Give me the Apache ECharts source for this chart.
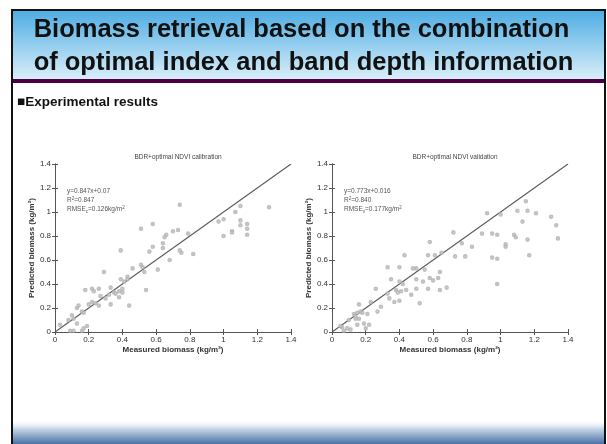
<!DOCTYPE html>
<html>
<head>
<meta charset="utf-8">
<script src="https://cdn.jsdelivr.net/npm/echarts@6/dist/echarts.min.js"></script>
<style>
  html, body { margin: 0; padding: 0; background: #fff; }
  #main { width: 607px; height: 444px; }
</style>
</head>
<body>
<div id="main"></div>
<script>
/** calibration samples: measured / predicted biomass (kg/m2) */
var calMeasured = [0.51, 0.58, 0.66, 0.65, 0.64, 0.64, 0.39, 0.56, 0.58, 0.29, 0.51, 0.52, 0.53, 0.61, 0.68, 0.46, 0.43, 0.43, 0.39, 0.41,
    0.40, 0.38, 0.40, 0.38, 0.33, 0.35, 0.44, 0.54, 0.33, 0.18, 0.22, 0.23, 0.26, 0.27, 0.22, 0.24, 0.26, 0.20, 0.14, 0.13,
    0.16, 0.17, 0.10, 0.11, 0.08, 0.13, 0.19, 0.16, 0.09, 0.11, 0.03, 0.17, 0.30, 0.32, 0.36,
    0.74, 0.70, 0.73, 0.79, 0.74, 0.75, 0.82, 0.97, 1.00, 1.00, 1.05, 1.05, 1.07, 1.10, 1.10, 1.10, 1.14, 1.14, 1.14, 1.27]
var calPredicted = [0.86, 0.90, 0.81, 0.79, 0.74, 0.70, 0.68, 0.67, 0.71, 0.50, 0.56, 0.54, 0.50, 0.52, 0.60, 0.53, 0.46, 0.44, 0.44, 0.42,
    0.36, 0.34, 0.33, 0.29, 0.37, 0.33, 0.22, 0.35, 0.23, 0.35, 0.36, 0.34, 0.36, 0.30, 0.25, 0.24, 0.22, 0.23, 0.22, 0.20,
    0.17, 0.16, 0.14, 0.11, 0.10, 0.07, 0.05, 0.01, 0.01, 0.01, 0.06, 0.03, 0.28, 0.31, 0.32,
    1.06, 0.84, 0.85, 0.82, 0.68, 0.66, 0.65, 0.92, 0.94, 0.80, 0.84, 0.83, 1.00, 1.05, 0.93, 0.89, 0.90, 0.86, 0.81, 1.04]

/** validation samples */
var valMeasured = [0.58, 0.43, 0.57, 0.33, 0.40, 0.48, 0.50, 0.35, 0.40, 0.42, 0.50, 0.54, 0.55, 0.58, 0.60, 0.57, 0.50, 0.44, 0.38, 0.39,
    0.41, 0.33, 0.34, 0.37, 0.40, 0.47, 0.52, 0.64, 0.63, 0.64, 0.68, 0.26, 0.23, 0.27, 0.29, 0.16, 0.17, 0.15, 0.18, 0.13,
    0.14, 0.21, 0.14, 0.16, 0.10, 0.19, 0.15, 0.22, 0.20, 0.09, 0.11, 0.06, 0.05, 0.07, 0.61, 0.65,
    0.72, 0.77, 0.73, 0.79, 0.83, 0.89, 0.92, 0.95, 0.98, 0.95, 0.98, 0.98, 1.00, 1.03, 1.03, 1.08, 1.09, 1.10, 1.13, 1.15,
    1.16, 1.16, 1.17, 1.21, 1.30, 1.33, 1.34]
var valPredicted = [0.75, 0.64, 0.64, 0.54, 0.54, 0.53, 0.53, 0.44, 0.42, 0.40, 0.44, 0.42, 0.52, 0.45, 0.43, 0.36, 0.36, 0.35, 0.35, 0.33,
    0.34, 0.32, 0.28, 0.25, 0.26, 0.31, 0.24, 0.50, 0.45, 0.35, 0.37, 0.36, 0.25, 0.17, 0.21, 0.23, 0.17, 0.16, 0.16, 0.15,
    0.13, 0.15, 0.11, 0.11, 0.10, 0.07, 0.06, 0.06, 0.03, 0.03, 0.02, 0.04, 0.05, 0.01, 0.64, 0.66,
    0.83, 0.74, 0.63, 0.63, 0.71, 0.82, 0.99, 0.82, 0.81, 0.62, 0.61, 0.40, 0.98, 0.73, 0.71, 0.81, 0.79, 1.01, 0.92, 1.09,
    1.01, 0.77, 0.64, 0.99, 0.96, 0.89, 0.78]

/** 1:1 line */
var oneToOne = [0, 1.4]

var plotTitles = ['BDR+optimal NDVI calibration', 'BDR+optimal NDVI validation']
var calStats = ['y=0.847x+0.07', '0.847', '0.126kg/m']
var valStats = ['y=0.773x+0.016', '0.840', '0.177kg/m']

function pairs(xs, ys) {
    return xs.map(function (x, i) { return [x, ys[i]] })
}

var grids = [
    { left: 55, top: 164, width: 236, height: 168 },
    { left: 332, top: 164, width: 236, height: 168 }
]

var axisColor = '#555'
var labelStyle = { fontFamily: 'Liberation Sans', fontSize: 8, color: '#333', margin: 4 }

function makeX(idx, pos) {
    return {
        type: 'value', gridIndex: idx, position: pos, min: 0, max: 1.4, interval: 0.2,
        name: pos == 'bottom' ? 'Measured biomass (kg/m²)' : '',
        nameLocation: 'middle', nameGap: 14,
        nameTextStyle: { fontFamily: 'Liberation Sans', fontSize: 8, fontWeight: 'bold', color: '#333' },
        axisLine: { show: true, lineStyle: { color: axisColor, width: 1 } },
        axisTick: { show: true, inside: true, length: 3, lineStyle: { color: axisColor } },
        axisLabel: pos == 'bottom' ? Object.assign({ show: true, formatter: function (v) { return +v.toFixed(1) + '' } }, labelStyle) : { show: false },
        splitLine: { show: false }
    }
}

function makeY(idx, pos) {
    return {
        type: 'value', gridIndex: idx, position: pos, min: 0, max: 1.4, interval: 0.2,
        name: pos == 'left' ? 'Predicted biomass (kg/m²)' : '',
        nameLocation: 'middle', nameGap: 15,
        nameTextStyle: { fontFamily: 'Liberation Sans', fontSize: 8, fontWeight: 'bold', color: '#333' },
        axisLine: { show: true, lineStyle: { color: axisColor, width: 1 } },
        axisTick: { show: true, inside: true, length: 3, lineStyle: { color: axisColor } },
        axisLabel: pos == 'left' ? Object.assign({ show: true, formatter: function (v) { return +v.toFixed(1) + '' } }, labelStyle) : { show: false },
        splitLine: { show: false }
    }
}

function statsText(x, stats, sub) {
    return {
        type: 'text', left: x, top: 188,
        style: {
            text: '{a|' + stats[0] + '}\n{a|R}{s|2}{a|=' + stats[1] + '}\n{a|RMSE}{b|' + sub + '}{a|=' + stats[2] + '}{s|2}',
            rich: {
                a: { fontFamily: 'Liberation Sans', fontSize: 6.5, fill: '#555', lineHeight: 9 },
                s: { fontFamily: 'Liberation Sans', fontSize: 4.5, fill: '#555', verticalAlign: 'top', lineHeight: 9 },
                b: { fontFamily: 'Liberation Sans', fontSize: 4.5, fill: '#555', verticalAlign: 'bottom', lineHeight: 9 }
            }
        }
    }
}

var theChart = echarts.init(document.getElementById('main'))
var scatterStyle = { color: '#b0b0b0', borderColor: '#a8a8a8', borderWidth: 0.7 }

option = {
    backgroundColor: '#fff',
    animation: false,
    title: plotTitles.map(function (t, i) {
        return {
            text: t, left: grids[i].left + grids[i].width / 2, top: 149, textAlign: 'center',
            textStyle: { fontFamily: 'Liberation Sans', fontSize: 6.5, fontWeight: 'normal', color: '#444' }
        }
    }),
    grid: grids,
    xAxis: [makeX(0, 'bottom'), makeX(0, 'top'), makeX(1, 'bottom'), makeX(1, 'top')],
    yAxis: [makeY(0, 'left'), makeY(0, 'right'), makeY(1, 'left'), makeY(1, 'right')],
    series: [
        {
            type: 'line', xAxisIndex: 0, yAxisIndex: 0, data: pairs(oneToOne, oneToOne),
            symbol: 'none', lineStyle: { color: '#5a5a5a', width: 1.1 }, z: 1
        },
        {
            type: 'scatter', xAxisIndex: 0, yAxisIndex: 0, data: pairs(calMeasured, calPredicted),
            symbol: 'emptyCircle', symbolSize: 2.6, itemStyle: scatterStyle
        },
        {
            type: 'line', xAxisIndex: 2, yAxisIndex: 2, data: pairs(oneToOne, oneToOne),
            symbol: 'none', lineStyle: { color: '#5a5a5a', width: 1.1 }, z: 1
        },
        {
            type: 'scatter', xAxisIndex: 2, yAxisIndex: 2, data: pairs(valMeasured, valPredicted),
            symbol: 'emptyCircle', symbolSize: 2.6, itemStyle: scatterStyle
        }
    ],
    graphic: [
        // slide frame
        { type: 'rect', shape: { x: 12, y: 10, width: 593, height: 440 }, style: { fill: 'none', stroke: '#111', lineWidth: 2 }, z: 10 },
        // header band
        {
            type: 'rect', shape: { x: 13, y: 11, width: 591, height: 68 },
            style: {
                fill: new echarts.graphic.LinearGradient(0, 0, 0, 1, [
                    { offset: 0, color: '#4fade4' },
                    { offset: 1, color: '#d9eef9' }
                ])
            }, z: 5
        },
        { type: 'rect', shape: { x: 13, y: 79, width: 591, height: 4 }, style: { fill: '#4b0042' }, z: 5 },
        {
            type: 'text', left: 'center', top: 13, z: 6,
            style: {
                text: 'Biomass retrieval based on the combination\nof optimal index and band depth information',
                fontFamily: 'Liberation Sans', fontSize: 25.5, fontWeight: 'bold', fill: '#111',
                lineHeight: 33, align: 'center'
            }
        },
        {
            type: 'text', left: 17, top: 95, z: 6,
            style: { text: '■Experimental results', fontFamily: 'Liberation Sans', fontSize: 13.5, fontWeight: 'bold', fill: '#111' }
        },
        // bottom band
        {
            type: 'rect', shape: { x: 13, y: 420, width: 591, height: 24 },
            style: {
                fill: new echarts.graphic.LinearGradient(0, 0, 0, 1, [
                    { offset: 0, color: 'rgba(255,255,255,0)' },
                    { offset: 0.35, color: '#c9d8ea' },
                    { offset: 1, color: '#4a72a6' }
                ])
            }, z: 5
        },
        statsText(67, calStats, 'c'),
        statsText(344, valStats, 'v')
    ]
}
theChart.setOption(option)
</script>
</body>
</html>
